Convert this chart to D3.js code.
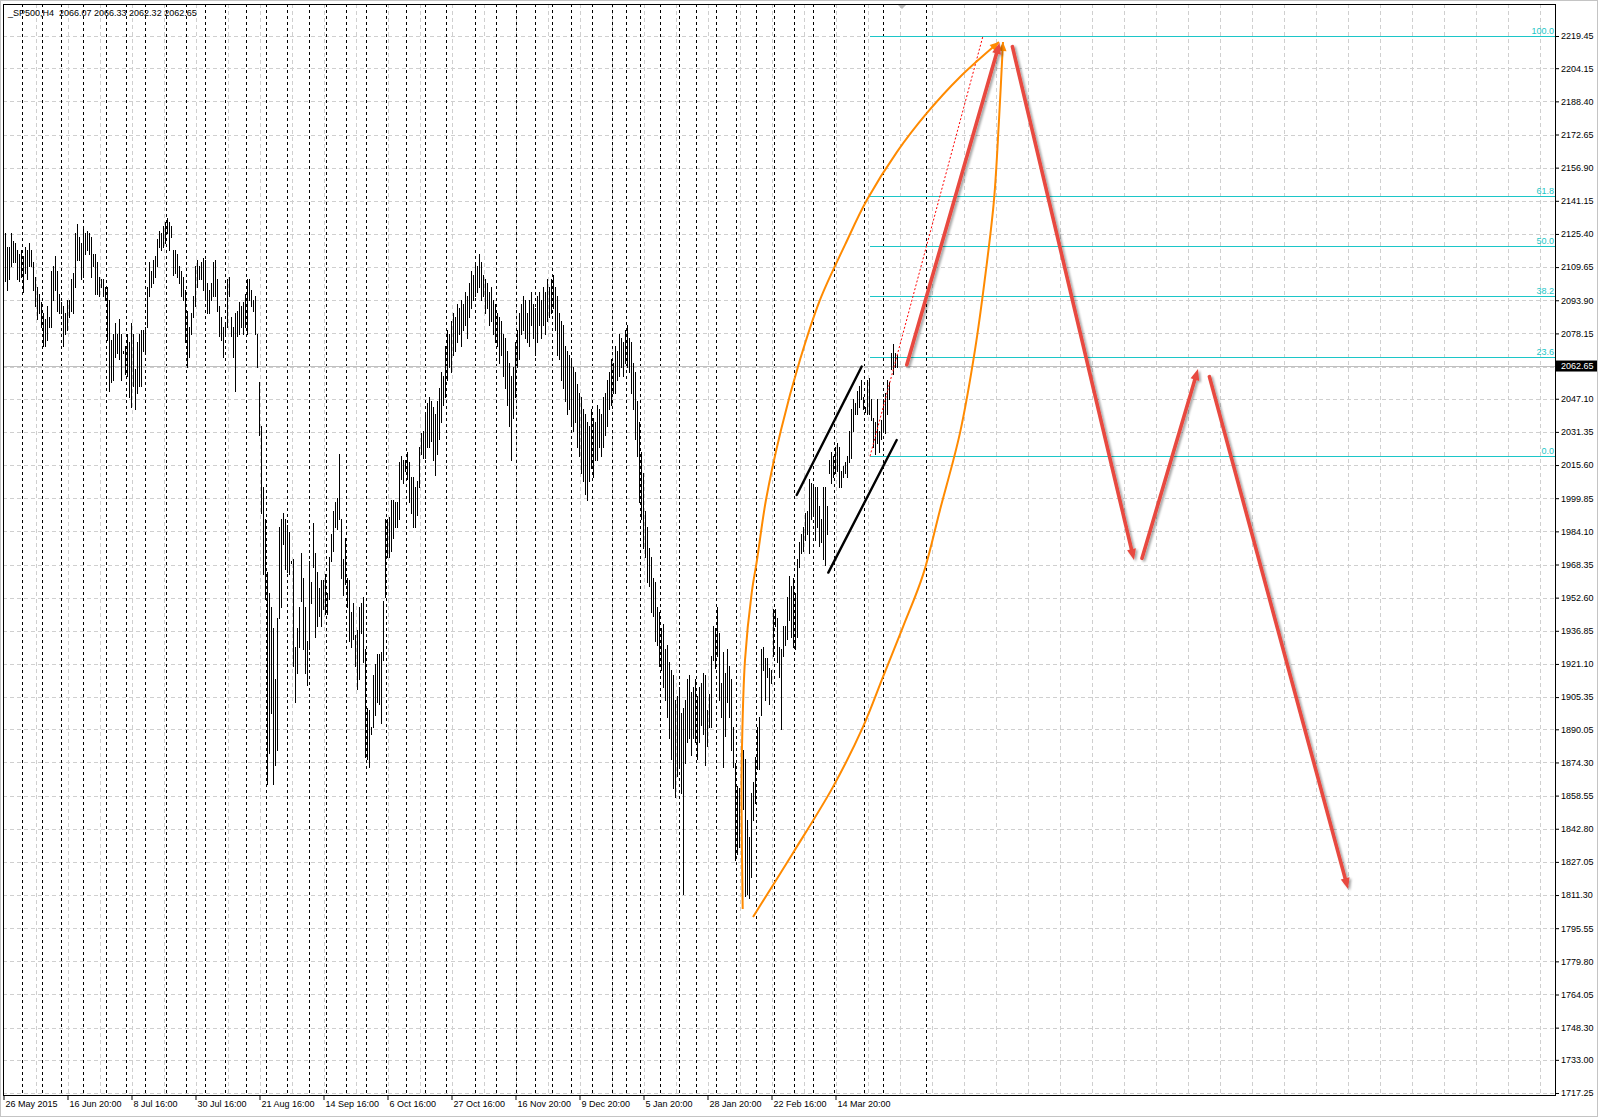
<!DOCTYPE html>
<html>
<head>
<meta charset="utf-8">
<script src="https://cdn.jsdelivr.net/npm/d3@7"></script>
<style>
  body { margin: 0; background: #fff; }
  svg { display: block; }
  text { font-family: "Liberation Sans", Arial, sans-serif; font-size: 9px; }
</style>
</head>
<body>
<div id="chart"></div>
<script>
// chart header
var title = "_SP500,H4  2066.07 2066.33 2062.32 2062.65";
var lastPrice = 2062.65;

// H4 bars, oldest first (high / low of each bar)
var highs = [
  2126,2119,2119,2126,2122,2121,2118,2116,2118,2115,
  2119,2118,2121,2118,2112,2105,2100,2097,2093,2088,
  2085,2091,2086,2108,2110,2115,2108,2097,2093,2091,
  2088,2094,2094,2104,2107,2126,2130,2124,2121,2129,
  2126,2127,2126,2124,2116,2116,2112,2105,2104,2104,
  2100,2100,2094,2075,2078,2083,2078,2085,2078,2070,
  2072,2078,2074,2083,2078,2061,2074,2078,2080,2080,
  2081,2100,2112,2108,2113,2115,2123,2127,2126,2129,
  2131,2133,2131,2129,2118,2118,2116,2110,2108,2105,
  2099,2089,2081,2088,2096,2110,2113,2110,2112,2114,
  2113,2102,2099,2102,2112,2113,2104,2091,2086,2081,
  2083,2104,2105,2086,2081,2088,2089,2093,2091,2093,
  2097,2104,2104,2099,2094,2096,2078,2055,
  2034,2005,1990,1965,1955,1948,1938,1914,1943,1986,
  1990,1993,1990,1987,1984,1970,1971,1929,1938,1948,
  1974,1962,1948,1932,1970,1960,1988,1974,1965,1957,
  1961,1961,1964,1955,1972,1983,1994,1998,2000,2021,
  1990,1971,1981,1962,1961,1946,1950,1935,1937,1948,
  1950,1953,1928,1900,1899,1891,1916,1921,1926,1926,
  1927,1951,1990,1990,1991,1999,1999,1998,1998,2017,
  2020,2018,2018,2022,2017,2010,2010,2005,2008,2024,
  2031,2032,2040,2045,2048,2046,2043,2040,2046,
  2052,2060,2058,2072,2080,2078,2084,2088,2086,2092,
  2090,2094,2092,2098,2096,2102,2108,2106,2112,2110,
  2116,2112,2106,2104,2102,2098,2100,2094,2092,2088,
  2086,2084,2078,2076,2070,2064,2058,2062,2074,2080,
  2088,2092,2096,2094,2088,2094,2098,2092,2090,2096,
  2098,2094,2100,2098,2104,2100,2104,2106,2100,2096,
  2088,2084,2082,2072,2070,2068,2066,2062,2060,2054,
  2050,2048,2042,2040,2036,2034,2042,2038,2036,2044,
  2042,2040,2048,2050,2056,2060,2066,2064,2072,2070,
  2078,2076,2074,2080,2082,2076,2074,2064,2060,2046,
  2036,2022,2012,1994,1986,1976,1972,1962,1960,1948,
  1946,1938,1940,1928,1930,1922,1918,1916,1904,1906,
  1910,1898,1900,1904,1914,1916,1908,1910,1914,1906,
  1910,1912,
  1917,1916,1899,1907,1925,1939,1938,1948,1936,1912,
  1927,1917,1928,1920,1914,1891,1874,1863,1862,1882,
  1880,1876,1847,1839,1860,1865,1877,1891,1896,1928,
  1929,1924,1924,1919,1918,1947,1947,1943,1929,1928,
  1939,1939,1953,1963,1958,1962,1955,1971,1979,1983,
  1986,1993,1994,2009,2007,2005,2005,2005,1996,1990,
  2005,2005,1996,2018,2022,2020,2024,2026,2024,2013,
  2015,2017,2020,2032,2042,2047,2045,2051,2053,2056,
  2048,2043,2056,2057,2047,2038,2036,2047,2032,2037,
  2047,2050,2056,2055,2069,2073,2069,2068
];
var lows = [
  2103,2099,2104,2110,2112,2112,2104,2103,2105,2098,
  2107,2104,2110,2110,2099,2091,2085,2088,2081,2072,
  2072,2075,2081,2081,2094,2099,2089,2088,2088,2072,
  2078,2080,2086,2089,2088,2100,2113,2113,2104,2105,
  2116,2118,2116,2105,2110,2097,2097,2096,2100,2096,
  2094,2075,2051,2055,2056,2067,2069,2066,2056,2069,
  2059,2058,2048,2043,2053,2042,2050,2053,2053,2070,
  2070,2081,2096,2100,2102,2105,2110,2119,2118,2119,
  2121,2126,2118,2124,2106,2107,2105,2102,2096,2094,
  2074,2062,2067,2078,2086,2091,2100,2104,2104,2099,
  2094,2088,2088,2094,2096,2096,2089,2077,2075,2067,
  2077,2081,2096,2077,2067,2051,2077,2078,2081,2078,
  2081,2078,2094,2091,2089,2078,2062,2030,
  1993,1964,1952,1864,1879,1898,1864,1873,1880,1943,
  1948,1978,1966,1965,1964,1969,1920,1903,1917,1929,
  1951,1928,1917,1911,1928,1950,1967,1934,1939,1944,
  1939,1947,1945,1945,1952,1970,1975,1986,1985,1990,
  1962,1954,1959,1948,1932,1929,1933,1920,1909,1914,
  1936,1922,1877,1876,1872,1888,1891,1897,1903,1902,
  1893,1923,1953,1972,1972,1975,1981,1986,1986,1990,
  2009,2007,2013,2009,1998,1993,1986,1986,1992,2005,
  2021,2019,2019,2024,2024,2027,2018,2011,2021,
  2028,2036,2044,2048,2056,2062,2060,2068,2070,2074,
  2078,2072,2080,2082,2076,2086,2090,2094,2096,2098,
  2100,2094,2096,2088,2090,2082,2084,2078,2074,2072,
  2064,2068,2058,2052,2044,2034,2018,2038,2048,2062,
  2066,2078,2080,2076,2074,2072,2082,2076,2068,2074,
  2082,2076,2082,2078,2084,2086,2088,2090,2080,2068,
  2066,2056,2052,2046,2040,2042,2034,2032,2036,2024,
  2020,2012,2008,2002,1999,2008,2014,2010,2018,2018,
  2024,2020,2024,2030,2034,2042,2044,2050,2050,2056,
  2058,2062,2058,2064,2062,2060,2050,2042,2028,2020,
  1998,1990,1976,1972,1960,1958,1946,1944,1932,1930,
  1920,1918,1910,1904,1896,1886,1876,1862,1858,1868,
  1872,1860,1812,1874,1884,1886,1878,1886,1884,1876,
  1884,1892,
  1888,1873,1882,1891,1891,1923,1919,1925,1904,1896,
  1872,1887,1903,1896,1880,1872,1828,1831,1834,1857,
  1852,1811,1812,1810,1820,1847,1855,1871,1871,1897,
  1918,1904,1915,1902,1912,1925,1939,1922,1915,1890,
  1925,1930,1933,1942,1934,1929,1928,1934,1967,1974,
  1975,1980,1983,1974,1990,1993,1980,1986,1977,1979,
  1971,1968,1983,2012,2007,2010,2012,2013,2005,2005,
  2010,2012,2010,2017,2019,2032,2040,2040,2043,2047,
  2042,2041,2040,2040,2037,2024,2021,2026,2022,2028,
  2032,2031,2040,2047,2061,2059,2062,2062
];

// price scale labels
var priceTicks = [2219.45, 2204.15, 2188.40, 2172.65, 2156.90, 2141.15, 2125.40, 2109.65,
  2093.90, 2078.15, 2062.40, 2047.10, 2031.35, 2015.60, 1999.85, 1984.10, 1968.35, 1952.60,
  1936.85, 1921.10, 1905.35, 1890.05, 1874.30, 1858.55, 1842.80, 1827.05, 1811.30, 1795.55,
  1779.80, 1764.05, 1748.30, 1733.00, 1717.25];

// time scale labels and the bar each one sits on
var dateLabels = ["26 May 2015", "16 Jun 20:00", "8 Jul 16:00", "30 Jul 16:00", "21 Aug 16:00",
  "14 Sep 16:00", "6 Oct 16:00", "27 Oct 16:00", "16 Nov 20:00", "9 Dec 20:00", "5 Jan 20:00",
  "28 Jan 20:00", "22 Feb 16:00", "14 Mar 20:00"];
var dateBars = [0, 32, 64, 96, 128, 160, 192, 224, 256, 288, 320, 352, 384, 416];

// first bar of each week (period separators)
var weekStarts = [9, 19, 29, 40, 51, 61, 71, 81, 91, 101, 111, 121, 131, 142, 153, 161, 171,
  181, 191, 201, 211, 221, 236, 246, 256, 266, 274, 284, 294, 304, 311, 318, 328, 338, 346,
  356, 366, 376, 385, 395, 405, 415, 430, 440, 461];

// fibonacci retracement, [bar, price]
var fibLow = [432.5, 2019.8];
var fibHigh = [489, 2219.5];
var fibLevels = [0, 23.6, 38.2, 50, 61.8, 100];

// hand drawn objects, [bar, price]
var channelTop = [[395.85, 2001.4], [428.35, 2062.4]];
var channelBottom = [[411.65, 1964.5], [445.85, 2027.5]];
var arcLeft = [[368.85, 1804.7], [368.25, 1856.5], [368.5, 1881.7], [370, 1923.0], [373.35, 1954.9],
  [376, 1970.5], [380.5, 1999.1], [388, 2032.3], [397.5, 2065.6], [407.5, 2094.1], [420, 2120.2],
  [431, 2141.6], [446, 2164.4], [461, 2182.9], [477.5, 2200.0], [497, 2216.6]];
var arcRight = [[374, 1800.9], [394, 1831.3], [414, 1862.7], [429, 1891.2], [439, 1915.0],
  [449, 1938.7], [459, 1963.4], [467.5, 1994.3], [477.5, 2030.9], [485, 2070.3], [490.5, 2108.3],
  [494.5, 2141.6], [497, 2179.6], [499, 2216.6]];
var redArrows = [
  [[450.9, 2063.2], [497.3, 2216.2]],
  [[503.7, 2214.4], [564.5, 1970.5]],
  [[568.5, 1971.3], [596.5, 2061.2]],
  [[602.2, 2057.6], [671.5, 1814.2]]
];

var W = 1600, H = 1118;
var plot = {left: 3, top: 4, right: 1555, bottom: 1095};

var svg = d3.select("#chart").append("svg")
    .attr("width", W)
    .attr("height", H);

var defs = svg.append("defs");
defs.append("clipPath").attr("id", "plotclip")
  .append("rect")
    .attr("x", plot.left).attr("y", plot.top)
    .attr("width", plot.right - plot.left).attr("height", plot.bottom - plot.top);
defs.append("filter").attr("id", "shadow")
    .attr("x", "-20%").attr("y", "-20%").attr("width", "140%").attr("height", "140%")
  .append("feDropShadow")
    .attr("dx", 2).attr("dy", 1.5).attr("stdDeviation", 1.3)
    .attr("flood-color", "#000").attr("flood-opacity", 0.35);

// scales
var x = d3.scaleLinear().domain([0, highs.length - 1]).range([5, 897]);
var y = d3.scaleLinear().domain([1717.25, 2219.45]).range([1093, 36]);
function px(p) { return [x(p[0]), y(p[1])]; }
function crisp(v) { return Math.round(v) + 0.5; }

// outer window frame
svg.append("rect")
    .attr("x", 0.5).attr("y", 0.5).attr("width", W - 3).attr("height", H - 2)
    .attr("fill", "#fff").attr("stroke", "#c4c4c4");

var g = svg.append("g").attr("clip-path", "url(#plotclip)");

// grid
var grid = g.append("g")
    .attr("stroke", "#cfcfcf").attr("stroke-dasharray", "4,3")
    .attr("shape-rendering", "crispEdges");
grid.selectAll(".gx")
    .data(d3.range(16, (plot.right - 5) / 2, 16))
    .enter().append("line")
    .attr("x1", function(d) { return crisp(x(d) - 1); })
    .attr("x2", function(d) { return crisp(x(d) - 1); })
    .attr("y1", plot.top).attr("y2", plot.bottom);
grid.selectAll(".gy")
    .data(priceTicks)
    .enter().append("line")
    .attr("x1", plot.left).attr("x2", plot.right)
    .attr("y1", function(d) { return crisp(y(d)); })
    .attr("y2", function(d) { return crisp(y(d)); });

// period separators
g.append("g")
    .attr("stroke", "#000").attr("stroke-dasharray", "3,3")
    .attr("shape-rendering", "crispEdges")
  .selectAll("line")
    .data(weekStarts)
    .enter().append("line")
    .attr("x1", function(d) { return crisp(x(d) - 1.5); })
    .attr("x2", function(d) { return crisp(x(d) - 1.5); })
    .attr("y1", plot.top).attr("y2", plot.bottom);

// bid line
g.append("line")
    .attr("x1", plot.left).attr("x2", plot.right)
    .attr("y1", crisp(y(lastPrice))).attr("y2", crisp(y(lastPrice)))
    .attr("stroke", "#c0c0c0").attr("shape-rendering", "crispEdges");

// fibonacci levels
var fibColor = "#1cc6c8";
var fib = g.append("g");
fib.selectAll("line")
    .data(fibLevels)
    .enter().append("line")
    .attr("x1", x(fibLow[0])).attr("x2", plot.right)
    .attr("y1", function(d) { return crisp(y(fibLow[1] + (fibHigh[1] - fibLow[1]) * d / 100)); })
    .attr("y2", function(d) { return crisp(y(fibLow[1] + (fibHigh[1] - fibLow[1]) * d / 100)); })
    .attr("stroke", fibColor).attr("shape-rendering", "crispEdges");
fib.selectAll("text")
    .data(fibLevels)
    .enter().append("text")
    .attr("x", plot.right - 1)
    .attr("y", function(d) { return y(fibLow[1] + (fibHigh[1] - fibLow[1]) * d / 100) - 2; })
    .attr("text-anchor", "end")
    .attr("fill", fibColor)
    .text(function(d) { return d.toFixed(1); });

// bars
g.append("g")
    .attr("stroke", "#000").attr("stroke-width", 1)
    .attr("shape-rendering", "crispEdges")
  .selectAll("line")
    .data(highs)
    .enter().append("line")
    .attr("x1", function(d, i) { return crisp(x(i)); })
    .attr("x2", function(d, i) { return crisp(x(i)); })
    .attr("y1", function(d) { return y(d); })
    .attr("y2", function(d, i) { return y(lows[i]) + 1; });

// fibonacci trend line (red dotted)
g.append("line")
    .attr("x1", x(fibLow[0])).attr("y1", y(fibLow[1]))
    .attr("x2", x(fibHigh[0])).attr("y2", y(fibHigh[1]))
    .attr("stroke", "#ff0000").attr("stroke-dasharray", "2,2");

// channel
[channelTop, channelBottom].forEach(function(c) {
  g.append("line")
      .attr("x1", x(c[0][0])).attr("y1", y(c[0][1]))
      .attr("x2", x(c[1][0])).attr("y2", y(c[1][1]))
      .attr("stroke", "#000").attr("stroke-width", 2.4).attr("stroke-linecap", "round");
});

function arrowHead(sel, p0, p1, len, half, color) {
  var dx = p1[0] - p0[0], dy = p1[1] - p0[1], L = Math.sqrt(dx * dx + dy * dy);
  var ux = dx / L, uy = dy / L;
  var bx = p1[0] - ux * len, by = p1[1] - uy * len;
  sel.append("path")
      .attr("d", "M" + p1[0] + "," + p1[1] +
                 "L" + (bx - uy * half) + "," + (by + ux * half) +
                 "L" + (bx + uy * half) + "," + (by - ux * half) + "Z")
      .attr("fill", color);
}

// orange curved arrows
var orange = "#ff8a00";
var curve = d3.line()
    .x(function(d) { return x(d[0]); })
    .y(function(d) { return y(d[1]); })
    .curve(d3.curveCatmullRom.alpha(0.5));
[arcLeft, arcRight].forEach(function(a) {
  var og = g.append("g");
  og.append("path")
      .attr("d", curve(a))
      .attr("fill", "none").attr("stroke", orange).attr("stroke-width", 2);
  arrowHead(og, px(a[a.length - 2]), px(a[a.length - 1]), 9, 4, orange);
});

// red projection arrows
var red = "#e8493f";
var rg = g.append("g").attr("filter", "url(#shadow)");
redArrows.forEach(function(a) {
  var p0 = px(a[0]), p1 = px(a[1]);
  var dx = p1[0] - p0[0], dy = p1[1] - p0[1], L = Math.sqrt(dx * dx + dy * dy);
  rg.append("line")
      .attr("x1", p0[0]).attr("y1", p0[1])
      .attr("x2", p1[0] - dx / L * 6).attr("y2", p1[1] - dy / L * 6)
      .attr("stroke", red).attr("stroke-width", 3.6).attr("stroke-linecap", "round");
  arrowHead(rg, p0, p1, 11, 4.5, red);
});

// chart shift marker
svg.append("path")
    .attr("d", "M" + (x(448.5) - 5) + "," + (plot.top) + "h10l-5,5z")
    .attr("fill", "#b8b8b8");

// price axis
var yAxis = svg.append("g")
    .attr("transform", "translate(" + plot.right + ",0)")
    .call(d3.axisRight(y).tickValues(priceTicks).tickSize(4).tickSizeOuter(0)
      .tickFormat(function(d) { return d.toFixed(2); }));
yAxis.select(".domain").remove();
yAxis.selectAll("line").attr("stroke", "#000");
yAxis.selectAll("text")
    .attr("x", 6)
    .attr("fill", "#000")
    .style("font-family", '"Liberation Sans", Arial, sans-serif')
    .style("font-size", "9px");

// time axis
var xAxis = svg.append("g")
    .attr("transform", "translate(0," + plot.bottom + ")")
    .call(d3.axisBottom(x).tickValues(dateBars).tickSize(5).tickSizeOuter(0)
      .tickFormat(function(d, i) { return dateLabels[i]; }));
xAxis.select(".domain").remove();
xAxis.selectAll(".tick").attr("transform", function(d) { return "translate(" + (crisp(x(d) - 1) - 0.5) + ",0)"; });
xAxis.selectAll("line").attr("stroke", "#000");
xAxis.selectAll("text")
    .attr("x", 1.5).attr("y", 6)
    .attr("text-anchor", "start")
    .attr("fill", "#000")
    .style("font-family", '"Liberation Sans", Arial, sans-serif')
    .style("font-size", "9px");

// plot border
svg.append("rect")
    .attr("x", plot.left + 0.5).attr("y", plot.top + 0.5)
    .attr("width", plot.right - plot.left).attr("height", plot.bottom - plot.top)
    .attr("fill", "none").attr("stroke", "#000").attr("shape-rendering", "crispEdges");

// last price box
svg.append("rect")
    .attr("x", plot.right + 1).attr("y", y(lastPrice) - 5.5)
    .attr("width", 41).attr("height", 11)
    .attr("fill", "#000");
svg.append("text")
    .attr("x", plot.right + 6).attr("y", y(lastPrice) + 3.3)
    .attr("fill", "#fff")
    .text(lastPrice.toFixed(2));

// title
svg.append("text")
    .attr("x", 8).attr("y", 16)
    .attr("fill", "#000")
    .attr("xml:space", "preserve")
    .style("white-space", "pre")
    .text(title);
</script>
</body>
</html>
